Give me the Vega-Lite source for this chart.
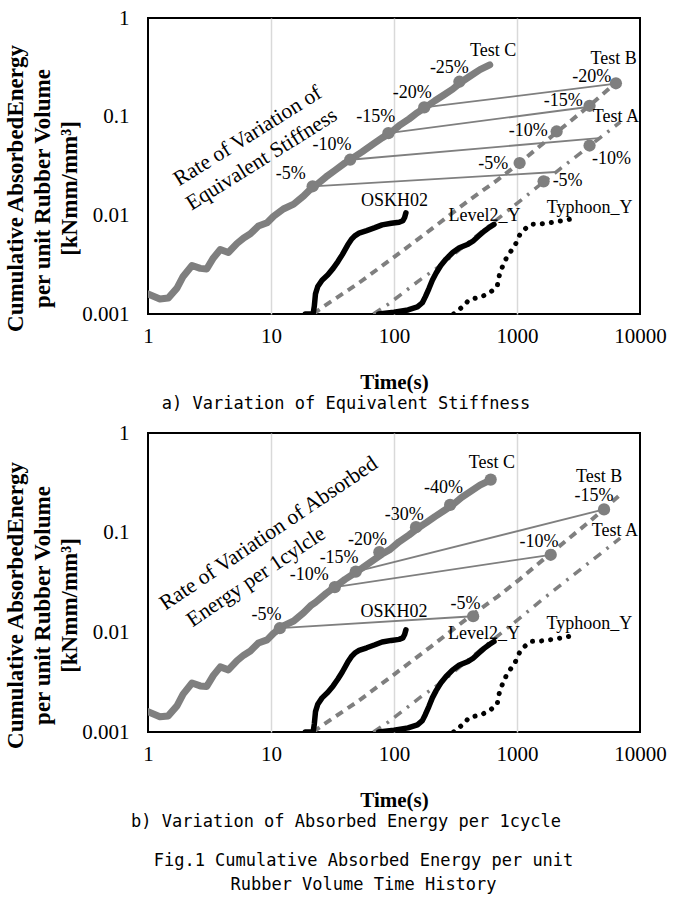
{
  "$schema": "https://vega.github.io/schema/vega-lite/v6.json",
  "background": "white",
  "padding": {"left": 3, "top": 6, "right": 5, "bottom": 5},
  "spacing": 8,
  "config": {
    "view": {"stroke": "black", "strokeWidth": 2},
    "font": "Liberation Serif"
  },
  "title": {
    "text": ["Fig.1 Cumulative Absorbed Energy per unit", "Rubber Volume Time History"],
    "orient": "bottom",
    "anchor": "middle",
    "font": "DejaVu Sans Mono",
    "fontSize": 17,
    "fontWeight": "normal",
    "lineHeight": 24,
    "color": "black",
    "offset": 22,
    "dx": 28
  },
  "datasets": {
    "curves": [
      {"s": "Test C", "t": 1, "E": 0.0016}, {"s": "Test C", "t": 1.25, "E": 0.00142}, {"s": "Test C", "t": 1.46, "E": 0.00145},
      {"s": "Test C", "t": 1.72, "E": 0.00183}, {"s": "Test C", "t": 1.93, "E": 0.0024}, {"s": "Test C", "t": 2.28, "E": 0.0031},
      {"s": "Test C", "t": 2.66, "E": 0.0029}, {"s": "Test C", "t": 3.0, "E": 0.00286}, {"s": "Test C", "t": 3.4, "E": 0.0037},
      {"s": "Test C", "t": 3.87, "E": 0.0045}, {"s": "Test C", "t": 4.5, "E": 0.0042}, {"s": "Test C", "t": 5.3, "E": 0.0052},
      {"s": "Test C", "t": 6.0, "E": 0.0059}, {"s": "Test C", "t": 6.8, "E": 0.0065}, {"s": "Test C", "t": 7.9, "E": 0.0078},
      {"s": "Test C", "t": 9.3, "E": 0.0084}, {"s": "Test C", "t": 10.5, "E": 0.0098}, {"s": "Test C", "t": 12.6, "E": 0.0116},
      {"s": "Test C", "t": 15.3, "E": 0.013}, {"s": "Test C", "t": 18.4, "E": 0.0157}, {"s": "Test C", "t": 21, "E": 0.0185},
      {"s": "Test C", "t": 23, "E": 0.02}, {"s": "Test C", "t": 28, "E": 0.0245}, {"s": "Test C", "t": 33, "E": 0.0285},
      {"s": "Test C", "t": 40, "E": 0.034}, {"s": "Test C", "t": 46, "E": 0.038}, {"s": "Test C", "t": 55, "E": 0.044},
      {"s": "Test C", "t": 68, "E": 0.053}, {"s": "Test C", "t": 80, "E": 0.061}, {"s": "Test C", "t": 93, "E": 0.068},
      {"s": "Test C", "t": 110, "E": 0.081}, {"s": "Test C", "t": 133, "E": 0.095}, {"s": "Test C", "t": 155, "E": 0.11},
      {"s": "Test C", "t": 183, "E": 0.126}, {"s": "Test C", "t": 215, "E": 0.145}, {"s": "Test C", "t": 256, "E": 0.167},
      {"s": "Test C", "t": 300, "E": 0.19}, {"s": "Test C", "t": 355, "E": 0.226}, {"s": "Test C", "t": 420, "E": 0.26},
      {"s": "Test C", "t": 500, "E": 0.3}, {"s": "Test C", "t": 600, "E": 0.335},
      {"s": "Test B", "t": 22, "E": 0.001}, {"s": "Test B", "t": 27, "E": 0.0012}, {"s": "Test B", "t": 50, "E": 0.002},
      {"s": "Test B", "t": 98, "E": 0.0037}, {"s": "Test B", "t": 200, "E": 0.0072}, {"s": "Test B", "t": 400, "E": 0.014},
      {"s": "Test B", "t": 700, "E": 0.023}, {"s": "Test B", "t": 1050, "E": 0.034}, {"s": "Test B", "t": 2000, "E": 0.066},
      {"s": "Test B", "t": 3900, "E": 0.13}, {"s": "Test B", "t": 6900, "E": 0.24},
      {"s": "Test A", "t": 68, "E": 0.001}, {"s": "Test A", "t": 90, "E": 0.00126}, {"s": "Test A", "t": 166, "E": 0.00226},
      {"s": "Test A", "t": 230, "E": 0.003}, {"s": "Test A", "t": 500, "E": 0.0066}, {"s": "Test A", "t": 1000, "E": 0.0132},
      {"s": "Test A", "t": 1680, "E": 0.0223}, {"s": "Test A", "t": 3970, "E": 0.0515}, {"s": "Test A", "t": 6900, "E": 0.088},
      {"s": "OSKH02", "t": 19, "E": 0.001}, {"s": "OSKH02", "t": 22, "E": 0.001}, {"s": "OSKH02", "t": 22.5, "E": 0.0012},
      {"s": "OSKH02", "t": 23, "E": 0.0016}, {"s": "OSKH02", "t": 24, "E": 0.0019}, {"s": "OSKH02", "t": 26, "E": 0.0022},
      {"s": "OSKH02", "t": 29, "E": 0.0025}, {"s": "OSKH02", "t": 32, "E": 0.0029}, {"s": "OSKH02", "t": 35, "E": 0.0034},
      {"s": "OSKH02", "t": 38, "E": 0.004}, {"s": "OSKH02", "t": 42, "E": 0.005}, {"s": "OSKH02", "t": 45, "E": 0.0057},
      {"s": "OSKH02", "t": 48, "E": 0.0062}, {"s": "OSKH02", "t": 52, "E": 0.0066}, {"s": "OSKH02", "t": 60, "E": 0.007},
      {"s": "OSKH02", "t": 70, "E": 0.0075}, {"s": "OSKH02", "t": 80, "E": 0.008}, {"s": "OSKH02", "t": 95, "E": 0.0083},
      {"s": "OSKH02", "t": 110, "E": 0.0085}, {"s": "OSKH02", "t": 118, "E": 0.0088}, {"s": "OSKH02", "t": 122, "E": 0.0095},
      {"s": "OSKH02", "t": 125, "E": 0.0106},
      {"s": "Level2_Y", "t": 75, "E": 0.001}, {"s": "Level2_Y", "t": 100, "E": 0.00104}, {"s": "Level2_Y", "t": 130, "E": 0.0011},
      {"s": "Level2_Y", "t": 155, "E": 0.00118}, {"s": "Level2_Y", "t": 170, "E": 0.0013}, {"s": "Level2_Y", "t": 180, "E": 0.0015},
      {"s": "Level2_Y", "t": 192, "E": 0.0018}, {"s": "Level2_Y", "t": 205, "E": 0.0022}, {"s": "Level2_Y", "t": 220, "E": 0.0026},
      {"s": "Level2_Y", "t": 240, "E": 0.0031}, {"s": "Level2_Y", "t": 265, "E": 0.0036}, {"s": "Level2_Y", "t": 300, "E": 0.0042},
      {"s": "Level2_Y", "t": 340, "E": 0.0047}, {"s": "Level2_Y", "t": 400, "E": 0.0051}, {"s": "Level2_Y", "t": 440, "E": 0.0055},
      {"s": "Level2_Y", "t": 490, "E": 0.0062}, {"s": "Level2_Y", "t": 540, "E": 0.0069}, {"s": "Level2_Y", "t": 600, "E": 0.0076},
      {"s": "Level2_Y", "t": 650, "E": 0.0081},
      {"s": "Typhoon_Y", "t": 305, "E": 0.001}, {"s": "Typhoon_Y", "t": 360, "E": 0.00118}, {"s": "Typhoon_Y", "t": 410, "E": 0.0014},
      {"s": "Typhoon_Y", "t": 520, "E": 0.0015}, {"s": "Typhoon_Y", "t": 620, "E": 0.0017}, {"s": "Typhoon_Y", "t": 690, "E": 0.0019},
      {"s": "Typhoon_Y", "t": 720, "E": 0.0025}, {"s": "Typhoon_Y", "t": 760, "E": 0.003}, {"s": "Typhoon_Y", "t": 820, "E": 0.0037},
      {"s": "Typhoon_Y", "t": 900, "E": 0.0044}, {"s": "Typhoon_Y", "t": 966, "E": 0.005}, {"s": "Typhoon_Y", "t": 1050, "E": 0.0063},
      {"s": "Typhoon_Y", "t": 1150, "E": 0.0072}, {"s": "Typhoon_Y", "t": 1290, "E": 0.0081}, {"s": "Typhoon_Y", "t": 1580, "E": 0.0082},
      {"s": "Typhoon_Y", "t": 1950, "E": 0.0085}, {"s": "Typhoon_Y", "t": 2300, "E": 0.0088}, {"s": "Typhoon_Y", "t": 2800, "E": 0.0092}
    ],
    "markers": [
      {"p": "a", "t": 21.8, "E": 0.0197}, {"p": "a", "t": 44, "E": 0.0366}, {"p": "a", "t": 90, "E": 0.068},
      {"p": "a", "t": 176, "E": 0.124}, {"p": "a", "t": 340, "E": 0.226},
      {"p": "a", "t": 1050, "E": 0.0339}, {"p": "a", "t": 2100, "E": 0.0708}, {"p": "a", "t": 3890, "E": 0.129},
      {"p": "a", "t": 6370, "E": 0.218}, {"p": "a", "t": 1645, "E": 0.0221}, {"p": "a", "t": 3890, "E": 0.051},
      {"p": "b", "t": 11.8, "E": 0.011}, {"p": "b", "t": 33, "E": 0.0284}, {"p": "b", "t": 48.9, "E": 0.0407},
      {"p": "b", "t": 76, "E": 0.0637}, {"p": "b", "t": 151, "E": 0.1135}, {"p": "b", "t": 286, "E": 0.19},
      {"p": "b", "t": 611, "E": 0.341}, {"p": "b", "t": 440, "E": 0.0145}, {"p": "b", "t": 1880, "E": 0.06},
      {"p": "b", "t": 5100, "E": 0.171}
    ],
    "connectors": [
      {"p": "a", "id": 1, "t": 21.8, "E": 0.0197}, {"p": "a", "id": 1, "t": 2060, "E": 0.0275},
      {"p": "a", "id": 2, "t": 44, "E": 0.0366}, {"p": "a", "id": 2, "t": 4620, "E": 0.0607},
      {"p": "a", "id": 3, "t": 90, "E": 0.068}, {"p": "a", "id": 3, "t": 3890, "E": 0.126},
      {"p": "a", "id": 4, "t": 176, "E": 0.124}, {"p": "a", "id": 4, "t": 6370, "E": 0.216},
      {"p": "b", "id": 1, "t": 11.8, "E": 0.011}, {"p": "b", "id": 1, "t": 440, "E": 0.0145},
      {"p": "b", "id": 2, "t": 33, "E": 0.0284}, {"p": "b", "id": 2, "t": 1880, "E": 0.06},
      {"p": "b", "id": 3, "t": 48.9, "E": 0.0407}, {"p": "b", "id": 3, "t": 5100, "E": 0.171}
    ],
    "labels": [
      {"p": "a", "txt": "Test C", "t": 641, "E": 0.461}, {"p": "a", "txt": "-25%", "t": 282, "E": 0.308},
      {"p": "a", "txt": "-20%", "t": 141, "E": 0.173}, {"p": "a", "txt": "-15%", "t": 71, "E": 0.1},
      {"p": "a", "txt": "-10%", "t": 31.3, "E": 0.0512}, {"p": "a", "txt": "-5%", "t": 14.5, "E": 0.0262},
      {"p": "a", "txt": "Test B", "t": 6110, "E": 0.38}, {"p": "a", "txt": "-20%", "t": 4060, "E": 0.25},
      {"p": "a", "txt": "-15%", "t": 2380, "E": 0.144}, {"p": "a", "txt": "Test A", "t": 6370, "E": 0.1},
      {"p": "a", "txt": "-10%", "t": 1235, "E": 0.0708}, {"p": "a", "txt": "-10%", "t": 5870, "E": 0.0375},
      {"p": "a", "txt": "-5%", "t": 641, "E": 0.0331}, {"p": "a", "txt": "-5%", "t": 2580, "E": 0.0221},
      {"p": "a", "txt": "OSKH02", "t": 101, "E": 0.0141}, {"p": "a", "txt": "Level2_Y", "t": 544, "E": 0.0098},
      {"p": "a", "txt": "Typhoon_Y", "t": 3890, "E": 0.0118},
      {"p": "b", "txt": "Test C", "t": 626, "E": 0.5}, {"p": "b", "txt": "-40%", "t": 253, "E": 0.279},
      {"p": "b", "txt": "-30%", "t": 121, "E": 0.151}, {"p": "b", "txt": "-20%", "t": 61, "E": 0.0853},
      {"p": "b", "txt": "-15%", "t": 35.8, "E": 0.0555}, {"p": "b", "txt": "-10%", "t": 20.5, "E": 0.0372},
      {"p": "b", "txt": "-5%", "t": 9.2, "E": 0.0148}, {"p": "b", "txt": "Test B", "t": 4650, "E": 0.365},
      {"p": "b", "txt": "-15%", "t": 4220, "E": 0.235}, {"p": "b", "txt": "Test A", "t": 6260, "E": 0.105},
      {"p": "b", "txt": "-10%", "t": 1510, "E": 0.0815}, {"p": "b", "txt": "-5%", "t": 382, "E": 0.0193},
      {"p": "b", "txt": "OSKH02", "t": 100, "E": 0.016}, {"p": "b", "txt": "Level2_Y", "t": 540, "E": 0.0097},
      {"p": "b", "txt": "Typhoon_Y", "t": 3880, "E": 0.012}
    ],
    "rot": [
      {"p": "a", "txt": "Rate of Variation of", "t": 6.49, "E": 0.063},
      {"p": "a", "txt": "Equivalent Stiffness", "t": 8.44, "E": 0.0366},
      {"p": "b", "txt": "Rate of Variation of Absorbed", "t": 9.6, "E": 0.0973},
      {"p": "b", "txt": "Energy per 1cylcle", "t": 7.6, "E": 0.0358}
    ]
  },
  "vconcat": [
    {
      "width": 492,
      "height": 296,
      "title": {"text": "a) Variation of Equivalent Stiffness", "orient": "bottom", "anchor": "middle", "frame": "group", "dx": -48, "offset": 4, "font": "DejaVu Sans Mono", "fontSize": 17, "fontWeight": "normal", "color": "black"},
      "encoding": {
        "x": {"field": "t", "type": "quantitative", "scale": {"type": "log", "domain": [1, 10000]},
          "axis": {"values": [1, 10, 100, 1000, 10000], "format": "~g", "grid": true, "gridColor": "#d9d9d9", "gridWidth": 1.5,
            "gridOpacity": {"condition": {"test": "datum.value <= 1 || datum.value >= 10000", "value": 0}, "value": 1},
            "domain": false, "ticks": false, "labelFlush": false, "labelFont": "Liberation Serif", "labelFontSize": 21, "labelColor": "black", "labelPadding": 11,
            "title": "Time(s)", "titleFont": "Liberation Serif", "titleFontSize": 21, "titleFontWeight": "bold", "titleColor": "black", "titlePadding": 25}},
        "y": {"field": "E", "type": "quantitative", "scale": {"type": "log", "domain": [0.001, 1]},
          "axis": {"values": [0.001, 0.01, 0.1, 1], "format": "~g", "grid": false, "domain": false, "ticks": false,
            "labelFont": "Liberation Serif", "labelFontSize": 21, "labelColor": "black", "labelPadding": 19,
            "title": ["Cumulative AbsorbedEnergy", "per unit Rubber Volume", "[kNmm/mm³]"], "titleFont": "Liberation Serif", "titleFontSize": 23, "titleFontWeight": "bold", "titleColor": "black", "titleLineHeight": 27, "titleY": 170, "titlePadding": 0}}
      },
      "layer": [
        {"data": {"name": "curves"}, "transform": [{"filter": "datum.s == 'Test C'"}], "mark": {"type": "line", "color": "#7f7f7f", "strokeWidth": 7, "strokeCap": "round", "strokeJoin": "round", "clip": true}},
        {"data": {"name": "curves"}, "transform": [{"filter": "datum.s == 'Test B'"}], "mark": {"type": "line", "color": "#7f7f7f", "strokeWidth": 4, "strokeDash": [8, 6], "clip": true}},
        {"data": {"name": "curves"}, "transform": [{"filter": "datum.s == 'Test A'"}], "mark": {"type": "line", "color": "#7f7f7f", "strokeWidth": 3.5, "strokeDash": [9, 7, 2.5, 7], "clip": true}},
        {"data": {"name": "curves"}, "transform": [{"filter": "datum.s == 'OSKH02' || datum.s == 'Level2_Y'"}], "mark": {"type": "line", "color": "black", "strokeWidth": 5.5, "strokeCap": "round", "strokeJoin": "round", "clip": true}, "encoding": {"detail": {"field": "s"}}},
        {"data": {"name": "curves"}, "transform": [{"filter": "datum.s == 'Typhoon_Y'"}], "mark": {"type": "line", "color": "black", "strokeWidth": 5, "strokeDash": [0.1, 9], "strokeCap": "round", "clip": true}},
        {"data": {"name": "connectors"}, "transform": [{"filter": "datum.p == 'a'"}], "mark": {"type": "line", "color": "#7f7f7f", "strokeWidth": 1.8}, "encoding": {"detail": {"field": "id"}}},
        {"data": {"name": "markers"}, "transform": [{"filter": "datum.p == 'a'"}], "mark": {"type": "circle", "color": "#7f7f7f", "size": 150, "opacity": 1}},
        {"data": {"name": "labels"}, "transform": [{"filter": "datum.p == 'a'"}], "mark": {"type": "text", "font": "Liberation Serif", "fontSize": 18, "color": "black"}, "encoding": {"text": {"field": "txt"}}},
        {"data": {"name": "rot"}, "transform": [{"filter": "datum.p == 'a'"}], "mark": {"type": "text", "font": "Liberation Serif", "fontSize": 21.5, "angle": 328, "color": "black"}, "encoding": {"text": {"field": "txt"}}}
      ]
    },
    {
      "width": 492,
      "height": 299,
      "title": {"text": "b) Variation of Absorbed Energy per 1cycle", "orient": "bottom", "anchor": "middle", "frame": "group", "dx": -48, "offset": 4, "font": "DejaVu Sans Mono", "fontSize": 17, "fontWeight": "normal", "color": "black"},
      "encoding": {
        "x": {"field": "t", "type": "quantitative", "scale": {"type": "log", "domain": [1, 10000]},
          "axis": {"values": [1, 10, 100, 1000, 10000], "format": "~g", "grid": true, "gridColor": "#d9d9d9", "gridWidth": 1.5,
            "gridOpacity": {"condition": {"test": "datum.value <= 1 || datum.value >= 10000", "value": 0}, "value": 1},
            "domain": false, "ticks": false, "labelFlush": false, "labelFont": "Liberation Serif", "labelFontSize": 21, "labelColor": "black", "labelPadding": 11,
            "title": "Time(s)", "titleFont": "Liberation Serif", "titleFontSize": 21, "titleFontWeight": "bold", "titleColor": "black", "titlePadding": 25}},
        "y": {"field": "E", "type": "quantitative", "scale": {"type": "log", "domain": [0.001, 1]},
          "axis": {"values": [0.001, 0.01, 0.1, 1], "format": "~g", "grid": false, "domain": false, "ticks": false,
            "labelFont": "Liberation Serif", "labelFontSize": 21, "labelColor": "black", "labelPadding": 19,
            "title": ["Cumulative AbsorbedEnergy", "per unit Rubber Volume", "[kNmm/mm³]"], "titleFont": "Liberation Serif", "titleFontSize": 23, "titleFontWeight": "bold", "titleColor": "black", "titleLineHeight": 27, "titleY": 172, "titlePadding": 0}}
      },
      "layer": [
        {"data": {"name": "curves"}, "transform": [{"filter": "datum.s == 'Test C'"}], "mark": {"type": "line", "color": "#7f7f7f", "strokeWidth": 7, "strokeCap": "round", "strokeJoin": "round", "clip": true}},
        {"data": {"name": "curves"}, "transform": [{"filter": "datum.s == 'Test B'"}], "mark": {"type": "line", "color": "#7f7f7f", "strokeWidth": 4, "strokeDash": [8, 6], "clip": true}},
        {"data": {"name": "curves"}, "transform": [{"filter": "datum.s == 'Test A'"}], "mark": {"type": "line", "color": "#7f7f7f", "strokeWidth": 3.5, "strokeDash": [9, 7, 2.5, 7], "clip": true}},
        {"data": {"name": "curves"}, "transform": [{"filter": "datum.s == 'OSKH02' || datum.s == 'Level2_Y'"}], "mark": {"type": "line", "color": "black", "strokeWidth": 5.5, "strokeCap": "round", "strokeJoin": "round", "clip": true}, "encoding": {"detail": {"field": "s"}}},
        {"data": {"name": "curves"}, "transform": [{"filter": "datum.s == 'Typhoon_Y'"}], "mark": {"type": "line", "color": "black", "strokeWidth": 5, "strokeDash": [0.1, 9], "strokeCap": "round", "clip": true}},
        {"data": {"name": "connectors"}, "transform": [{"filter": "datum.p == 'b'"}], "mark": {"type": "line", "color": "#7f7f7f", "strokeWidth": 1.8}, "encoding": {"detail": {"field": "id"}}},
        {"data": {"name": "markers"}, "transform": [{"filter": "datum.p == 'b'"}], "mark": {"type": "circle", "color": "#7f7f7f", "size": 150, "opacity": 1}},
        {"data": {"name": "labels"}, "transform": [{"filter": "datum.p == 'b'"}], "mark": {"type": "text", "font": "Liberation Serif", "fontSize": 18, "color": "black"}, "encoding": {"text": {"field": "txt"}}},
        {"data": {"name": "rot"}, "transform": [{"filter": "datum.p == 'b'"}], "mark": {"type": "text", "font": "Liberation Serif", "fontSize": 21.5, "angle": 326, "color": "black"}, "encoding": {"text": {"field": "txt"}}}
      ]
    }
  ]
}
